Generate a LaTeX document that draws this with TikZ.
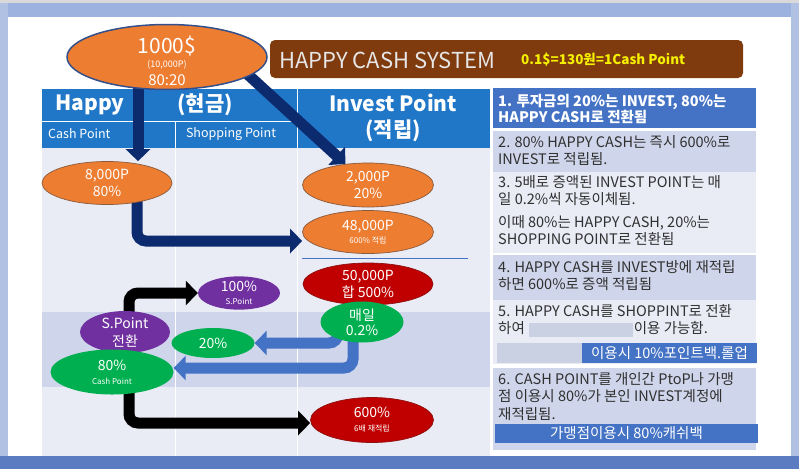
\documentclass[tikz,border=0pt]{standalone}
\usepackage{fontspec}
\setmainfont{Noto Sans CJK KR}
\usetikzlibrary{arrows.meta,positioning,calc,shapes.geometric}
\pgfdeclarelayer{back}
\pgfdeclarelayer{mid}
\pgfsetlayers{back,mid,main}
\definecolor{framegray}{HTML}{D9D9D9}
\definecolor{frameblue}{HTML}{9DB2DE}
\definecolor{framedark}{HTML}{5B7CC0}
\definecolor{head}{HTML}{2177C7}
\definecolor{bodybg}{HTML}{E9EBF5}
\definecolor{band}{HTML}{CFD5EA}
\definecolor{panelblue}{HTML}{4472C4}
\definecolor{titlebrown}{HTML}{7F3A0E}
\definecolor{titlegray}{HTML}{E6E6E6}
\definecolor{orangefill}{HTML}{ED7D31}
\definecolor{redfill}{HTML}{C00000}
\definecolor{greenfill}{HTML}{00B050}
\definecolor{purplefill}{HTML}{7030A0}
\definecolor{edgebrown}{HTML}{8A5A3C}
\definecolor{edgered}{HTML}{8E1010}
\definecolor{edgeblue}{HTML}{34508C}
\definecolor{navy}{HTML}{0C2A6E}
\definecolor{ink}{HTML}{303030}
\definecolor{blurgray}{HTML}{C9D1E2}
\definecolor{rateyellow}{HTML}{F5F000}
\newcommand{\fsz}[2]{\fontsize{#1}{#2}\selectfont}
\tikzset{
  every node/.style={inner sep=0pt},
  bubble/.style={ellipse,text=white,align=center,font=\fsz{14}{17}},
  orangebub/.style={bubble,fill=orangefill,draw=edgebrown,line width=0.7pt},
  redbub/.style={bubble,fill=redfill,draw=edgered,line width=0.7pt},
  greenbub/.style={bubble,fill=greenfill},
  purplebub/.style={bubble,fill=purplefill},
  fatarr/.style={line width=11pt,rounded corners=9pt,-{Triangle[length=12pt,width=24pt]}},
  navyarr/.style={fatarr,draw=navy},
  blackarr/.style={fatarr,draw=black},
  bluearr/.style={fatarr,draw=panelblue},
  headtxt/.style={text=white,font=\fsz{21}{26}\bfseries,align=center},
  subtxt/.style={text=white,font=\fsz{12.5}{14}},
  paneltxt/.style={anchor=north west,align=left,text=ink,font=\fsz{14.5}{17.5}},
  barbox/.style={fill=panelblue,text=white,font=\fsz{14.5}{16}},
  small/.style={font=\fsz{8}{9}},
}

\begin{document}
\begin{tikzpicture}[x=1pt,y=-1pt]
\useasboundingbox (0,0) rectangle (799,469);

\begin{pgfonlayer}{back}
% frame
\fill[framegray] (0,0) rectangle (799,469);
\fill[frameblue] (0,3) rectangle (799,17);
\fill[frameblue!80] (0,3) rectangle (8,469);
\fill[frameblue!80] (791,3) rectangle (799,469);
\fill[framedark] (0,456) rectangle (799,469);
\fill[white] (8,17) rectangle (791,456);
% table
\fill[bodybg] (42,148) rectangle (490,456);
\fill[band] (42,312) rectangle (490,387);
\fill[head] (42,89) rectangle (490,148);
\draw[white,line width=1pt] (42,121) -- (297,121) (175,121) -- (175,456) (297,89) -- (297,456);
\draw[panelblue,line width=1pt] (302,258) -- (468,258);
% text panel
\fill[panelblue] (493,88) rectangle (756,128);
\fill[band] (493,131) rectangle (756,172);
\fill[bodybg] (493,172) rectangle (756,253);
\fill[band] (493,255) rectangle (756,300);
\fill[bodybg] (493,300) rectangle (756,364);
\fill[band] (493,368) rectangle (756,450);
\fill[blurgray] (497,343) rectangle (582,363);
\end{pgfonlayer}

% title
\node[fill=titlebrown,rounded corners=5pt,minimum width=473pt,minimum height=38pt] (title) at (506.5,59) {};
\node[anchor=west,text=titlegray,font=\fsz{22}{24}] (tname) at (279,60) {HAPPY CASH SYSTEM};
\node[anchor=west,text=rateyellow,font=\fsz{13.5}{15}\bfseries] (trate) at (521,60) {0.1\$=130원=1Cash Point};

% table heads
\node[headtxt] (happy) at (90,105) {Happy};
\node[headtxt] (cash) at (205,105) {(현금)};
\node[headtxt] (invest) at (393,118) {Invest Point\\(적립)};
\node[subtxt,anchor=west] (cashpt) at (48,134) {Cash Point};
\node[subtxt] (shoppt) at (231,134) {Shopping Point};

% bubbles
\node[orangebub,draw=edgeblue,line width=1.5pt,minimum width=200pt,minimum height=65pt] (top) at (167,57) {};
\node[text=white,align=center,font=\fsz{15}{17}] (topval) at (167,61) {{\fsz{21}{22}1000\$}\\[-2.5pt]{\fsz{9}{10}(10,000P)}\\[1pt]80:20};
\node[orangebub,minimum width=130pt,minimum height=43pt] (p8) at (107,183) {8,000P\\80\%};
\node[orangebub,minimum width=131pt,minimum height=44pt] (p2) at (368,185) {2,000P\\20\%};
\node[orangebub,minimum width=131pt,minimum height=43pt] (p48) at (368,232) {48,000P\\[-4pt]{\fsz{8}{9}600\% 적립}};
\node[redbub,minimum width=130pt,minimum height=42pt] (p50) at (368,284) {50,000P\\합 500\%};
\node[greenbub,minimum width=83pt,minimum height=41pt] (daily) at (362,322) {매일\\[-2pt]0.2\%};
\node[purplebub,minimum width=82pt,minimum height=31pt] (s100) at (239,293) {100\%\\[-4pt]{\fsz{8}{9}S.Point}};
\node[purplebub,minimum width=90pt,minimum height=42pt] (sp) at (125,332) {S.Point\\[1pt]전환};
\node[greenbub,minimum width=123pt,minimum height=45pt] (cp80) at (112,372) {80\%\\[-3pt]{\fsz{8}{9}Cash Point}};
\node[greenbub,minimum width=83pt,minimum height=30pt] (g20) at (213,343) {20\%};
\node[redbub,minimum width=123pt,minimum height=45pt] (r600) at (372,420) {600\%\\[-3pt]{\fsz{8}{9}6배 재적립}};

% panel texts
\node[paneltxt,text=white,font=\fsz{14.5}{16}\bfseries] (t1) at (498,94) {1. 투자금의 20\%는 INVEST, 80\%는\\HAPPY CASH로 전환됨};
\node[paneltxt] (t2) at (498,135) {2. 80\% HAPPY CASH는 즉시 600\%로\\INVEST로 적립됨.};
\node[paneltxt] (t3) at (498,175) {3. 5배로 증액된 INVEST POINT는 매\\일 0.2\%씩 자동이체됨.\\[5pt]이때 80\%는 HAPPY CASH, 20\%는\\SHOPPING POINT로 전환됨};
\node[paneltxt] (t4) at (498,260) {4. HAPPY CASH를 INVEST방에 재적립\\하면 600\%로 증액 적립됨};
\node[paneltxt] (t5) at (498,304) {5. HAPPY CASH를 SHOPPINT로 전환\\하여\hspace{4pt}{\color{blurgray}\rule[-3pt]{104pt}{14pt}}\hspace{1pt}이용 가능함.};
\node[barbox,minimum width=175pt,minimum height=20pt] (bar5) at (669.5,353) {이용시 10\%포인트백.롤업};
\node[paneltxt] (t6) at (498,372) {6. CASH POINT를 개인간 PtoP나 가맹\\점 이용시 80\%가 본인 INVEST계정에\\재적립됨.};
\node[barbox,minimum width=263pt,minimum height=19pt] (bar6) at (626.5,433.5) {가맹점이용시 80\%캐쉬백};

% arrows
\begin{pgfonlayer}{mid}
\draw[navyarr] ([xshift=-29pt]top.center) -- ([xshift=-29pt]top.center |- p8.north);
\draw[navyarr] ($(top.347)!-14pt!(p2.137)$) -- (p2.137);
\draw[navyarr] ([xshift=30pt]p8.center) |- ([yshift=-9pt]p48.west);
\draw[blackarr] ([xshift=4pt]sp.center) |- (s100.west);
\draw[blackarr] ([xshift=17pt]cp80.center) |- ([yshift=-3pt]r600.west);
\draw[bluearr] ([xshift=-24pt]daily.center) |- (g20.east);
\draw[bluearr] ([xshift=-9pt]daily.center) |- ([yshift=4pt]cp80.east);
\end{pgfonlayer}

\end{tikzpicture}
\end{document}
